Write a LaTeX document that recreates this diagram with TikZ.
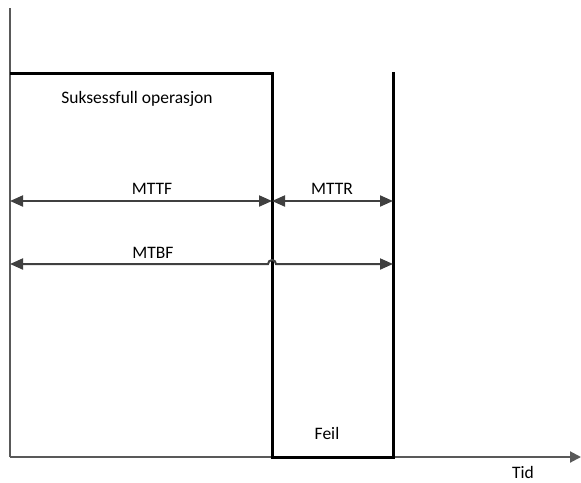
\documentclass[tikz,border=0pt]{standalone}
\usepackage{fontspec}
\setmainfont{Carlito}
\usetikzlibrary{arrows.meta}
\definecolor{axisgray}{HTML}{595959}
\definecolor{spangray}{HTML}{404040}
\begin{document}
\begin{tikzpicture}[x=1pt,y=-1pt,
  axis/.style={draw=axisgray,line width=2pt},
  stateline/.style={draw=black,line width=3pt,line join=miter},
  span/.style={draw=spangray,line width=2pt,
    {Triangle[length=13pt,width=11pt]}-{Triangle[length=13pt,width=11pt]}},
  lbl/.style={font=\fontsize{17.5}{20}\selectfont,text=black,inner sep=0pt,anchor=base}]
\useasboundingbox (0,0) rectangle (581,482);

% axes
\coordinate (O) at (10,457);
\coordinate (ytop) at (10,8);
\coordinate (xend) at (581,457);
\draw[axis] (O) -- (ytop);
\draw[axis,-{Triangle[length=11pt,width=11pt]}] (O) -- (xend);

% system state: up, then down during repair, then up again
\coordinate (up0) at (10,73);
\coordinate (fail) at (272,73);
\coordinate (failb) at (272,457);
\coordinate (repb) at (393,457);
\coordinate (rept) at (393,72);
\draw[stateline] (up0) -- (fail) -- (failb) -- (repb) -- (rept);

% time spans
\coordinate (ttfL) at (10,201);
\coordinate (ttfR) at (272,201);
\coordinate (ttrR) at (393,201);
\draw[span] (ttfL) -- (ttfR);
\draw[span] (ttfR) -- (ttrR);

\coordinate (tbfL) at (10,264);
\coordinate (hopL) at (268,264);
\coordinate (tbfR) at (393,264);
\draw[span] (tbfL) -- (hopL) arc[start angle=180,end angle=360,radius=4] -- (tbfR);

% labels (placed by baseline)
\node[lbl] (ok) at (137,103) {Suksessfull operasjon};
\node[lbl] (mttf) at (152,194) {MTTF};
\node[lbl] (mttr) at (332,194) {MTTR};
\node[lbl] (mtbf) at (153,258) {MTBF};
\node[lbl] (feil) at (327,439) {Feil};
\node[lbl] (tid) at (523,478) {Tid};
\end{tikzpicture}
\end{document}
